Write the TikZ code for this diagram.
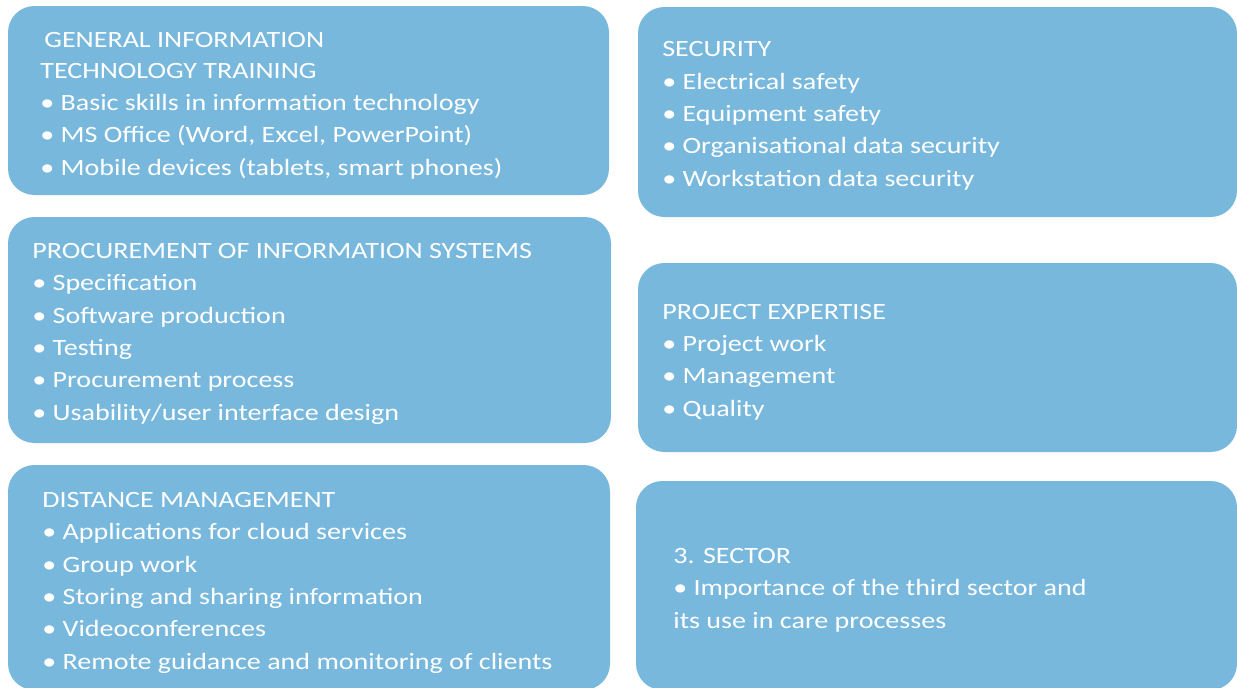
\documentclass[tikz,border=0pt]{standalone}
\usepackage{fontspec}
\setmainfont{Carlito}[FakeStretch=1.2]
\definecolor{boxblue}{HTML}{78B8DD}
\tikzset{
  box/.style={fill=boxblue, rounded corners=15},
  txt/.style={anchor=base west, inner sep=0pt, align=left, text=white,
    font=\fontsize{13.3pt}{18.4pt}\selectfont}
}
\begin{document}
\begin{tikzpicture}[x=0.02cm,y=-0.02cm]
\useasboundingbox (0,0) rectangle (1237,687);
% boxes
\fill[box] (8,6) rectangle (609,195);
\fill[box] (8,217) rectangle (611,443);
\fill[box] (8,465) rectangle (610,690);
\fill[box] (638,7) rectangle (1237,217);
\fill[box] (638,263) rectangle (1237,452);
\fill[box] (636,481) rectangle (1237,690);
% texts (base = last line)
\node[txt] (gentitle) at (44,47) {GENERAL INFORMATION};
\node[txt] (gen) at (40,175) {TECHNOLOGY TRAINING\\
  • Basic skills in information technology\\
  • MS Office (Word, Excel, PowerPoint)\\
  • Mobile devices (tablets, smart phones)};
\node[txt] (proc) at (32,420) {PROCUREMENT OF INFORMATION SYSTEMS\\
  • Specification\\
  • Software production\\
  • Testing\\
  • Procurement process\\
  • Usability/user interface design};
\node[txt] (dist) at (42,669) {DISTANCE MANAGEMENT\\
  • Applications for cloud services\\
  • Group work\\
  • Storing and sharing information\\
  • Videoconferences\\
  • Remote guidance and monitoring of clients};
\node[txt] (sec) at (662,186) {SECURITY\\
  • Electrical safety\\
  • Equipment safety\\
  • Organisational data security\\
  • Workstation data security};
\node[txt] (proj) at (662,416) {PROJECT EXPERTISE\\
  • Project work\\
  • Management\\
  • Quality};
\node[txt] (sector) at (673,628) {3. SECTOR\\
  • Importance of the third sector and\\
  its use in care processes};
\end{tikzpicture}
\end{document}
